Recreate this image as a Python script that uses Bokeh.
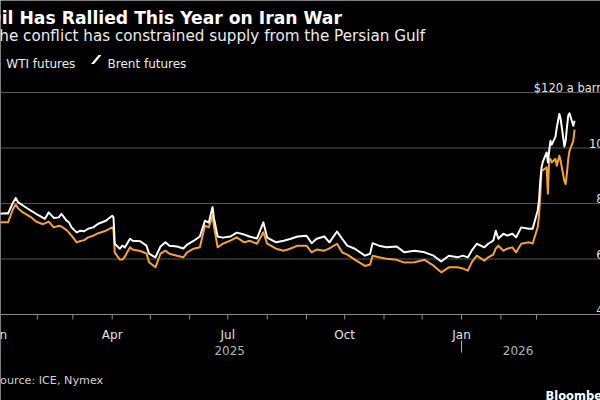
import pandas as pd
from bokeh.plotting import figure
from bokeh.models import Range1d, Span, Label, PolyAnnotation
from bokeh.embed import file_html
from bokeh.resources import INLINE
from bokeh.core.properties import value

# ---- data: front-month futures settlements, USD per barrel ----
dates = [
    "2025-01-02", "2025-01-07", "2025-01-09", "2025-01-13", "2025-01-15", "2025-01-17",
    "2025-01-21", "2025-01-27", "2025-01-31", "2025-02-05", "2025-02-07", "2025-02-10",
    "2025-02-14", "2025-02-18", "2025-02-20", "2025-02-24", "2025-02-26", "2025-02-28",
    "2025-03-04", "2025-03-07", "2025-03-10", "2025-03-13", "2025-03-17", "2025-03-21",
    "2025-03-27", "2025-04-01", "2025-04-02", "2025-04-03", "2025-04-07", "2025-04-09",
    "2025-04-11", "2025-04-15", "2025-04-17", "2025-04-23", "2025-04-28", "2025-04-30",
    "2025-05-05", "2025-05-09", "2025-05-13", "2025-05-16", "2025-05-22", "2025-05-27",
    "2025-05-30", "2025-06-04", "2025-06-09", "2025-06-13", "2025-06-16", "2025-06-19",
    "2025-06-20", "2025-06-23", "2025-06-27", "2025-07-03", "2025-07-08", "2025-07-14",
    "2025-07-18", "2025-07-24", "2025-07-29", "2025-08-01", "2025-08-08", "2025-08-14",
    "2025-08-19", "2025-08-25", "2025-09-01", "2025-09-05", "2025-09-09", "2025-09-15",
    "2025-09-19", "2025-09-25", "2025-09-29", "2025-10-03", "2025-10-09", "2025-10-17",
    "2025-10-21", "2025-10-23", "2025-10-28", "2025-11-03", "2025-11-11", "2025-11-17",
    "2025-11-25", "2025-12-03", "2025-12-10", "2025-12-16", "2025-12-22", "2025-12-29",
    "2026-01-02", "2026-01-06", "2026-01-09", "2026-01-13", "2026-01-19", "2026-01-22",
    "2026-01-26", "2026-01-28", "2026-01-30", "2026-02-03", "2026-02-06", "2026-02-10",
    "2026-02-13", "2026-02-17", "2026-02-23", "2026-02-26",
    "2026-03-02", "2026-03-03", "2026-03-04", "2026-03-05", "2026-03-06", "2026-03-09",
    "2026-03-10", "2026-03-11", "2026-03-12", "2026-03-13", "2026-03-16", "2026-03-17",
    "2026-03-18", "2026-03-19", "2026-03-20", "2026-03-23", "2026-03-24", "2026-03-25",
    "2026-03-26", "2026-03-27", "2026-03-30", "2026-03-31",
]

wti = [
    73.2, 73.2, 73.2, 78.1, 79.6, 78.2,
    76.7, 75.1, 73.5, 72.6, 72.8, 73.5,
    71.4, 72.0, 71.7, 70.4, 69.5, 68.4,
    66.0, 66.5, 66.8, 67.8, 68.4, 69.3,
    70.2, 71.4, 70.5, 62.3, 59.8, 59.8,
    60.9, 64.2, 63.4, 62.9, 62.0, 58.8,
    57.0, 61.9, 63.0, 61.9, 61.2, 60.6,
    62.4, 63.7, 64.2, 72.0, 71.4, 75.6,
    72.0, 64.2, 65.5, 66.6, 67.8, 66.0,
    66.6, 65.5, 69.6, 65.5, 63.7, 63.0,
    63.7, 64.8, 64.8, 62.4, 63.4, 63.0,
    63.8, 65.5, 62.4, 61.6, 59.8, 57.5,
    58.0, 61.2, 60.6, 60.1, 59.7, 58.7,
    58.8, 59.7, 57.6, 55.2, 57.0, 57.0,
    56.6, 55.8, 58.8, 61.2, 59.4, 60.6,
    61.6, 63.8, 64.8, 63.0, 63.7, 64.2,
    62.4, 65.5, 66.0, 65.6,
    71.5, 75.6, 82.8, 91.8, 92.0, 93.0,
    83.5, 96.1, 96.0, 94.8, 96.1, 93.6,
    95.4, 97.2, 95.4, 88.0, 87.0, 91.0,
    96.0, 99.0, 102.6, 106.6,
]

brent = [
    76.3, 76.5, 76.4, 80.4, 82.0, 80.4,
    79.2, 77.4, 76.3, 75.0, 74.5, 76.8,
    74.8, 75.0, 76.3, 73.8, 73.2, 71.4,
    69.6, 70.2, 70.0, 70.9, 71.4, 72.7,
    73.8, 75.6, 75.0, 65.5, 63.7, 64.8,
    64.2, 67.3, 66.6, 66.4, 64.8, 61.9,
    60.6, 64.5, 66.0, 64.8, 64.5, 63.8,
    65.2, 66.5, 68.1, 73.8, 73.1, 78.7,
    74.9, 68.1, 67.7, 68.1, 69.5, 68.8,
    68.1, 67.4, 73.2, 67.7, 66.0, 66.6,
    67.2, 68.1, 68.4, 65.7, 67.3, 68.1,
    66.0, 69.9, 67.3, 64.8, 63.7, 61.2,
    61.9, 65.7, 64.8, 64.2, 64.5, 62.4,
    63.0, 62.4, 61.2, 59.1, 61.2, 60.6,
    61.2, 60.6, 63.0, 65.5, 64.2, 65.5,
    66.6, 70.2, 67.3, 69.1, 68.4, 69.1,
    67.8, 71.4, 70.9, 70.9,
    77.5, 81.0, 88.2, 93.0, 95.0, 98.4,
    94.8, 99.0, 102.6, 101.2, 104.1, 107.4,
    109.8, 112.3, 110.6, 100.5, 102.6, 107.4,
    111.6, 112.5, 108.0, 109.8,
]

y_ticks = [40, 60, 80, 100, 120]
y_tick_labels = ["40", "60", "80", "100", "$120 a barrel"]
quarter_labels = {1: "Jan", 4: "Apr", 7: "Jul", 10: "Oct"}
years = ["2025", "2026"]

# ---- layout constants (pixels) ----
W, H = 600, 400
ORANGE = "#F4A236"
GRID = "#575757"
AXIS = "#8c8c8c"
FONT = "DejaVu Sans"
PX_PER_USD = 2.775        # vertical scale
AXIS_PX = 314             # canvas row of the $40 baseline
PX_PER_DAY = 1.2702       # horizontal scale
JAN1_PX = -2.6            # canvas column of 1 Jan 2025

t0 = pd.Timestamp("2025-01-01")
x = pd.to_datetime(dates)
x_start = (t0 + pd.Timedelta(days=(0 - JAN1_PX) / PX_PER_DAY)).to_pydatetime()
x_end = (t0 + pd.Timedelta(days=(W - JAN1_PX) / PX_PER_DAY)).to_pydatetime()
y_lo = 40 - (H - AXIS_PX) / PX_PER_USD
y_hi = 40 + AXIS_PX / PX_PER_USD

p = figure(
    width=W, height=H,
    x_axis_type="datetime",
    x_range=Range1d(x_start, x_end), y_range=Range1d(y_lo, y_hi),
    x_axis_location=None, y_axis_location=None,
    output_backend="svg", toolbar_location=None,
    min_border=0, outline_line_color=None,
    background_fill_color="black", border_fill_color="black",
)
p.grid.visible = False

# horizontal gridlines and baseline
for v in y_ticks[1:]:
    p.add_layout(Span(location=v, dimension="width", line_color=GRID,
                      line_width=1, level="underlay"))
p.add_layout(Span(location=y_ticks[0], dimension="width", line_color=AXIS,
                  line_width=1, level="underlay"))

# monthly ticks under the baseline
months = pd.date_range("2025-01-01", "2026-03-01", freq="MS")
p.segment(x0=months, y0=[40] * len(months), x1=months,
          y1=[40 - 5 / PX_PER_USD] * len(months), line_color=AXIS, line_width=1)

quarters = [m for m in months if m.month in quarter_labels]
p.text(x=quarters, y=[40] * len(quarters),
       text=[quarter_labels[m.month] for m in quarters],
       text_font=value(FONT), text_font_size="12px", text_color="#e2e2e2",
       text_align="center", text_baseline="alphabetic", y_offset=20)

# year labels, centred on each year's span of data
jan26 = pd.Timestamp("2026-01-01")
year_mid = [t0 + (jan26 - t0) / 2, jan26 + (x[-1] - jan26) / 2]
p.text(x=year_mid, y=[40, 40], text=years,
       text_font=value(FONT), text_font_size="12px", text_color="#b4b4b4",
       text_align="center", text_baseline="alphabetic", y_offset=36)
p.segment(x0=[jan26], y0=[40 - 26 / PX_PER_USD], x1=[jan26],
          y1=[40 - 38 / PX_PER_USD], line_color="#b4b4b4", line_width=1)

# value labels sitting above the gridlines at the right
p.text(x=[x_end] * len(y_ticks), y=y_ticks, text=y_tick_labels,
       text_font=value(FONT), text_font_size="11.5px", text_color="#e2e2e2",
       text_align="right", text_baseline="alphabetic", x_offset=10.5, y_offset=-5)

# price lines
p.line(x, wti, line_color=ORANGE, line_width=2, line_join="round")
p.line(x, brent, line_color="white", line_width=2, line_join="round")

# headline, subtitle, legend, footer
def label(text, x0, y_from_top, size, color="white", bold=False):
    p.add_layout(Label(x=x0, y=H - y_from_top, x_units="screen", y_units="screen",
                       text=text, text_font=FONT, text_font_size=f"{size}px",
                       text_font_style="bold" if bold else "normal",
                       text_color=color, text_baseline="alphabetic"))

label("Oil Has Rallied This Year on Iran War", -13.4, 17, 17.2, bold=True)
label("The conflict has constrained supply from the Persian Gulf", -10.5, 35.5, 15.2, color="#ececec")
label("WTI futures", 5.8, 63.5, 12, color="#ececec")
label("Brent futures", 107, 63.5, 12, color="#ececec")
label("Source: ICE, Nymex", -7.5, 380, 11.2, color="#d2d2d2")
label("Bloomberg", 545, 395, 11.5, bold=True)

# legend swatches drawn as short slanted strokes
def swatch(x0, color):
    p.add_layout(PolyAnnotation(
        xs=[x0, x0 + 3, x0 + 10.5, x0 + 7.5], ys=[H - 63.5, H - 63.5, H - 54.5, H - 54.5],
        xs_units="screen", ys_units="screen",
        fill_color=color, fill_alpha=1, line_color=None))

swatch(-12, ORANGE)
swatch(90.5, "white")

open("out.html", "w").write(file_html(p, INLINE))
